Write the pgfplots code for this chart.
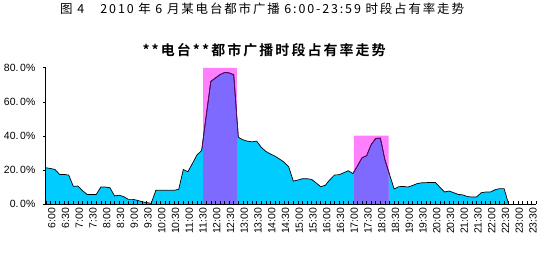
\documentclass[border=0pt]{standalone}
\usepackage{pgfplots}
\pgfplotsset{compat=1.18}
\usepackage{pgfplotstable}
\usepgfplotslibrary{fillbetween}
\usepackage{fontspec}
\setmainfont{Liberation Sans}
\newfontfamily\cjkls{Noto Sans CJK SC}[LetterSpace=15]
\newfontfamily\cjkbls{Noto Sans CJK SC Bold}[LetterSpace=15]
\definecolor{cyanc}{HTML}{00CCFF}
\definecolor{pinkc}{HTML}{FF80FF}
\definecolor{purpc}{HTML}{7F6AFF}
\definecolor{darkp}{HTML}{660066}
\pgfplotsset{
  layers/mylayers/.define layer set={background,pre main,main,axis ticks,axis lines,axis tick labels,axis descriptions,axis foreground}{},
}

\pgfplotstableread{
x y
0 21.4
1 21.0
2 20.4
3 17.5
4 17.5
5 17.1
6 10.5
7 10.7
8 8.0
9 5.8
10 5.8
11 5.8
12 10.1
13 10.1
14 9.7
15 4.9
16 5.3
17 4.5
18 2.9
19 2.9
20 2.3
21 1.5
22 1.0
23 0.6
24 8.2
25 8.2
26 8.2
27 8.2
28 8.2
29 8.8
30 20.4
31 19.1
32 24.0
33 29.0
34 31.5
35 52.0
36 72.0
37 74.0
38 76.0
39 77.2
40 77.0
41 75.9
42 39.3
43 37.8
44 37.0
45 36.6
46 37.0
47 33.5
48 31.0
49 29.5
50 28.2
51 26.5
52 24.7
53 22.0
54 13.6
55 14.2
56 15.0
57 15.0
58 14.6
59 12.5
60 10.3
61 11.2
62 14.5
63 17.2
64 17.3
65 18.5
66 19.7
67 18.0
68 22.5
69 27.3
70 28.5
71 35.0
72 38.6
73 38.8
74 26.0
75 17.5
76 9.0
77 10.3
78 10.5
79 10.1
80 11.0
81 12.1
82 12.6
83 12.7
84 12.8
85 12.8
86 10.0
87 7.2
88 7.8
89 6.8
90 5.8
91 5.5
92 4.5
93 4.3
94 4.3
95 6.8
96 7.2
97 7.2
98 8.5
99 9.2
100 9.2
101 0
}\datatable

\begin{document}
\begin{tikzpicture}
\path (0,0) rectangle (540bp,258bp);
\node[font=\cjkls\fontsize{12.5bp}{14bp}\selectfont, inner sep=0pt] at (263bp,249bp) {图 4　2010 年 6 月某电台都市广播 6:00-23:59 时段占有率走势};
\node[font=\cjkbls\fontsize{14bp}{16bp}\selectfont, inner sep=0pt] at (265bp,208bp) {**电台**都市广播时段占有率走势};
\begin{axis}[
  set layers=mylayers,
  at={(46bp,53bp)}, anchor=south west,
  scale only axis, width=492bp, height=137bp,
  xmin=0, xmax=107, ymin=0, ymax=80,
  axis x line=bottom, axis y line=left,
  axis line style={-, black, line width=0.8bp},
  xtick={0,3,...,105},
  minor xtick={0,1,...,107},
  xticklabels={6:00,6:30,7:00,7:30,8:00,8:30,9:00,9:30,10:00,10:30,11:00,11:30,12:00,12:30,13:00,13:30,14:00,14:30,15:00,15:30,16:00,16:30,17:00,17:30,18:00,18:30,19:00,19:30,20:00,20:30,21:00,21:30,22:00,22:30,23:00,23:30},
  ytick={0,20,40,60,80},
  yticklabels={0.\,0\%,20.\,0\%,40.\,0\%,60.\,0\%,80.\,0\%},
  xtick align=inside, ytick align=outside,
  major tick length=3bp, minor tick length=3bp,
  tick style={black, line width=0.6bp},
  xticklabel style={rotate=90, anchor=east, yshift=-6bp, font=\fontsize{10.5bp}{11bp}\selectfont},
  yticklabel style={font=\fontsize{10.5bp}{12bp}\selectfont, xshift=-4bp},
  /pgf/number format/assume math mode=true,
]
\addplot[draw=none, fill=cyanc, on layer=background] table[x=x,y=y]{\datatable} \closedcycle;
\addplot[name path=curve, draw=none] table[x=x,y=y]{\datatable};
\addplot[name path=base, draw=none] coordinates {(0,0) (101,0)};
\addplot[fill=pinkc, draw=none, on layer=background] coordinates {(34.3,0) (34.3,80) (41.7,80) (41.7,0)} \closedcycle;
\addplot[fill=pinkc, draw=none, on layer=background] coordinates {(67.2,0) (67.2,40.3) (74.8,40.3) (74.8,0)} \closedcycle;
\addplot[fill=purpc, draw=none] fill between[of=curve and base, soft clip={domain=34.3:41.7}];
\addplot[fill=purpc, draw=none] fill between[of=curve and base, soft clip={domain=67.2:74.8}];
\addplot[black, line width=0.7bp] table[x=x,y=y]{\datatable};
\addplot[darkp, line width=0.7bp, restrict x to domain=34:42] table[x=x,y=y]{\datatable};
\addplot[darkp, line width=0.7bp, restrict x to domain=67:75] table[x=x,y=y]{\datatable};
\end{axis}
\end{tikzpicture}
\end{document}
